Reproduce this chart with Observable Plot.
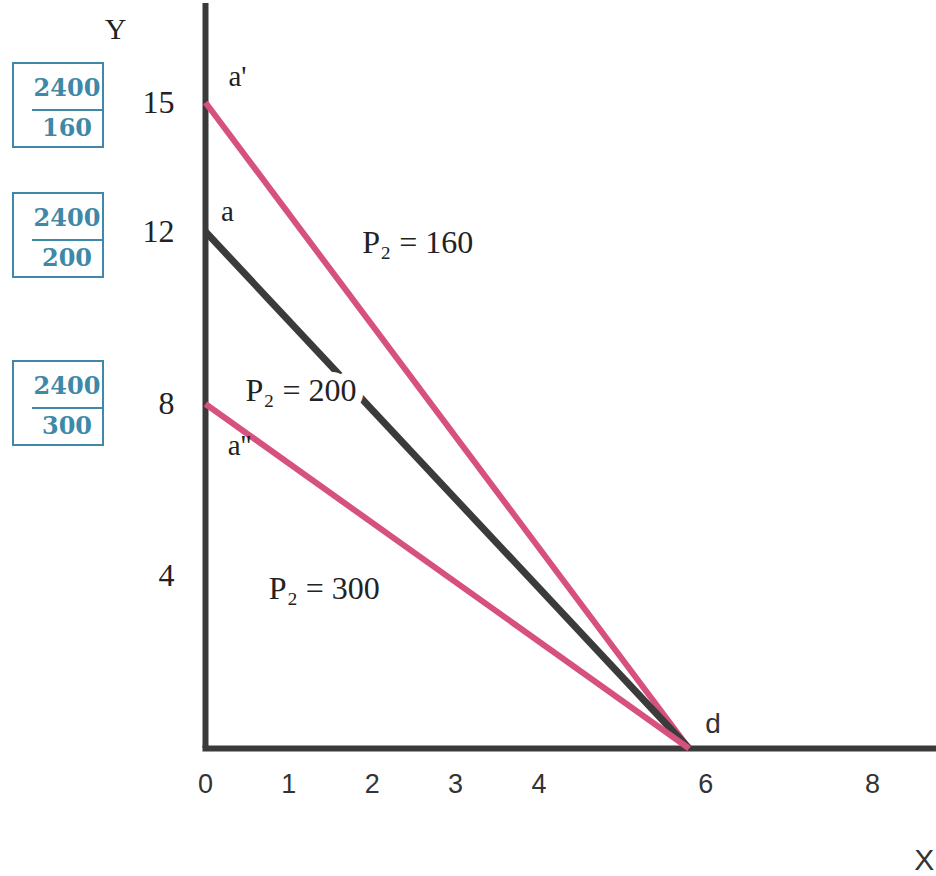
<!DOCTYPE html>
<html><head><meta charset="utf-8">
<script src="https://cdn.jsdelivr.net/npm/d3@7"></script>
<script src="https://cdn.jsdelivr.net/npm/@observablehq/plot@0.6"></script>
<style>
body{margin:0;background:#fff;}
#wrap{position:relative;width:936px;height:876px;overflow:hidden;background:#fff;}
#wrap svg{position:absolute;left:0;top:0;}
.frac{position:absolute;width:92px;height:86px;border:2px solid #3d89a7;color:#3d89a7;box-sizing:border-box;font:bold 24px "DejaVu Serif","Liberation Serif",serif;}
.frac .num,.frac .den{position:absolute;left:18px;width:70px;text-align:center;line-height:1;}
.frac .num{top:12px;}
.frac .den{top:52px;}
.frac .bar{position:absolute;left:18px;right:-2px;top:45px;height:2px;background:#3d89a7;}
</style></head>
<body><div id="wrap"></div>
<script>
// Budget lines: Y-intercepts for each price of good 2, common X-intercept d
const seriesNames = ["P₂ = 160", "P₂ = 200", "P₂ = 300"];
const yIntercepts = [15, 12, 8];
const xIntercept = 5.8;
const pointLabels = ["a'", "a", "a''"];
const budget = 2400;
const prices = [160, 200, 300];
const xTicks = [0, 1, 2, 3, 4, 6, 8];
const yTicks = [4, 8, 12, 15];
const lineColors = ["#d6517c", "#3b3b3b", "#d6517c"];
const lineWidths = [6, 7, 6];

const segs = seriesNames.flatMap((s, i) => [
  {s, i, x: 0, y: yIntercepts[i]},
  {s, i, x: xIntercept, y: 0}
]);
const labelPos = [
  {t: seriesNames[0], x: 1.88, y: 11.75},
  {t: seriesNames[1], x: 0.48, y: 8.3},
  {t: seriesNames[2], x: 0.76, y: 3.72}
];
const serif = "'Liberation Serif','DejaVu Serif',serif";
const sans = "'Liberation Sans Narrow','Liberation Sans',sans-serif";
const ptOffsets = [[32, -26], [22, -20], [34, 42]];

const chart = Plot.plot({
  width: 936, height: 876,
  margin: 0,
  style: {background: "transparent", overflow: "visible"},
  x: {domain: [0, 8], range: [205, 872], axis: null},
  y: {domain: [0, 15], range: [748, 102], axis: null},
  marks: [
    Plot.ruleX([0], {y1: 0, y2: 17.3, stroke: "#3a3a3a", strokeWidth: 6}),
    Plot.ruleY([0], {x1: -0.03, x2: 8.9, stroke: "#3a3a3a", strokeWidth: 6}),
    ...seriesNames.map((s, i) => Plot.line(segs.filter(d => d.i === i), {
      x: "x", y: "y", stroke: lineColors[i], strokeWidth: lineWidths[i], strokeLinecap: "butt"
    })),
    Plot.text(labelPos, {x: "x", y: "y", text: "t", textAnchor: "start", fontSize: 32,
      fontFamily: serif, fill: "#222", stroke: "white", strokeWidth: 16}),
    Plot.text(xTicks, {x: d => d, y: 0, dy: 36, text: d => String(d), fontSize: 27,
      fontFamily: sans, fill: "#333"}),
    Plot.text(yTicks, {x: 0, y: d => d, dx: -31, textAnchor: "end", text: d => String(d),
      fontSize: 32, fontFamily: serif, fill: "#222"}),
    ...pointLabels.map((t, i) => Plot.text([t], {x: 0, y: yIntercepts[i],
      dx: ptOffsets[i][0], dy: ptOffsets[i][1], text: d => d, fontSize: 29, fontFamily: serif, fill: "#222"})),
    Plot.text(["d"], {x: xIntercept, y: 0, dx: 24, dy: -24, text: d => d, fontSize: 28,
      fontFamily: sans, fill: "#333"}),
    Plot.text(["Y"], {x: -1.08, y: 16.7, text: d => d, fontSize: 30, fontFamily: serif, fill: "#222"}),
    Plot.text(["X"], {x: 8.74, y: -2.6, textAnchor: "end", text: d => d, fontSize: 30,
      fontFamily: sans, fill: "#333"})
  ]
});
const wrap = document.getElementById("wrap");
wrap.appendChild(chart);

// fraction boxes beside the Y-axis intercept labels
const ys = chart.scale("y");
const offsets = [3, 4, 0];
yIntercepts.forEach((v, i) => {
  const cy = ys.apply(v) + offsets[i];
  const box = document.createElement("div");
  box.className = "frac";
  box.style.left = "12px";
  box.style.top = (cy - 43) + "px";
  box.innerHTML = `<div class="num">${budget}</div><div class="bar"></div><div class="den">${prices[i]}</div>`;
  wrap.appendChild(box);
});
</script>
</body></html>
